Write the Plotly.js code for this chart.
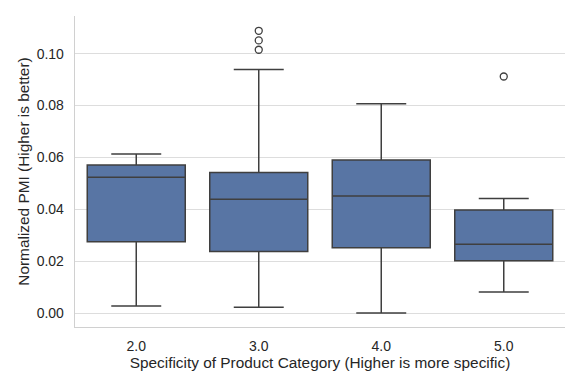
<!DOCTYPE html>
<html>
<head>
<meta charset="utf-8">
<script src="https://cdn.plot.ly/plotly-3.0.1.min.js"></script>
<style>
  body { margin: 0; background: #fff; }
  #chart { width: 581px; height: 388px; }
</style>
</head>
<body>
<div id="chart"></div>
<script>
// specificity levels and box stats
var categories = ["2.0", "3.0", "4.0", "5.0"];
var q1Vals = [0.0275, 0.0238, 0.0252, 0.0202];
var medianVals = [0.0524, 0.0439, 0.0452, 0.0266];
var q3Vals = [0.0571, 0.0542, 0.0590, 0.0398];
var lowerVals = [0.0028, 0.0023, 0.0001, 0.0082];
var upperVals = [0.0613, 0.0939, 0.0807, 0.0442];

// outliers
var outlierCats = ["3.0", "3.0", "3.0", "5.0"];
var outlierVals = [0.1088, 0.1051, 0.1015, 0.0912];

var lineCol = "#3f3f3f";

var data = [
  {
    type: "box",
    x: categories,
    q1: q1Vals,
    median: medianVals,
    q3: q3Vals,
    lowerfence: lowerVals,
    upperfence: upperVals,
    boxpoints: false,
    width: 0.8,
    whiskerwidth: 0.51,
    fillcolor: "#5875a4",
    line: { color: lineCol, width: 1.5 },
    hoverinfo: "skip",
    showlegend: false
  },
  {
    type: "scatter",
    mode: "markers",
    x: outlierCats,
    y: outlierVals,
    marker: {
      symbol: "circle-open",
      size: 7,
      color: lineCol,
      line: { width: 1.3, color: lineCol }
    },
    hoverinfo: "skip",
    showlegend: false
  }
];

var layout = {
  width: 581,
  height: 388,
  margin: { l: 75, r: 16, t: 16, b: 61 },
  paper_bgcolor: "#fff",
  plot_bgcolor: "#fff",
  font: { family: "Liberation Sans, Arial, sans-serif", size: 14, color: "#262626" },
  xaxis: {
    type: "category",
    range: [-0.5, 3.5],
    showgrid: false,
    showline: true,
    linecolor: "#d0d0d0",
    linewidth: 1.3,
    ticks: "outside",
    ticklen: 6,
    tickcolor: "rgba(0,0,0,0)",
    title: { text: "Specificity of Product Category (Higher is more specific)", font: { size: 15.4 }, standoff: 4 },
    fixedrange: true
  },
  yaxis: {
    range: [-0.0053, 0.1145],
    tickvals: [0, 0.02, 0.04, 0.06, 0.08, 0.1],
    ticktext: ["0.00", "0.02", "0.04", "0.06", "0.08", "0.10"],
    showgrid: true,
    gridcolor: "#dddddd",
    gridwidth: 1,
    zeroline: false,
    showline: true,
    linecolor: "#d0d0d0",
    linewidth: 1.3,
    ticks: "outside",
    ticklen: 7,
    tickcolor: "rgba(0,0,0,0)",
    title: { text: "Normalized PMI (Higher is better)", font: { size: 15.4 }, standoff: 3 },
    fixedrange: true
  }
};

Plotly.newPlot("chart", data, layout, { displayModeBar: false, staticPlot: true });
</script>
</body>
</html>
